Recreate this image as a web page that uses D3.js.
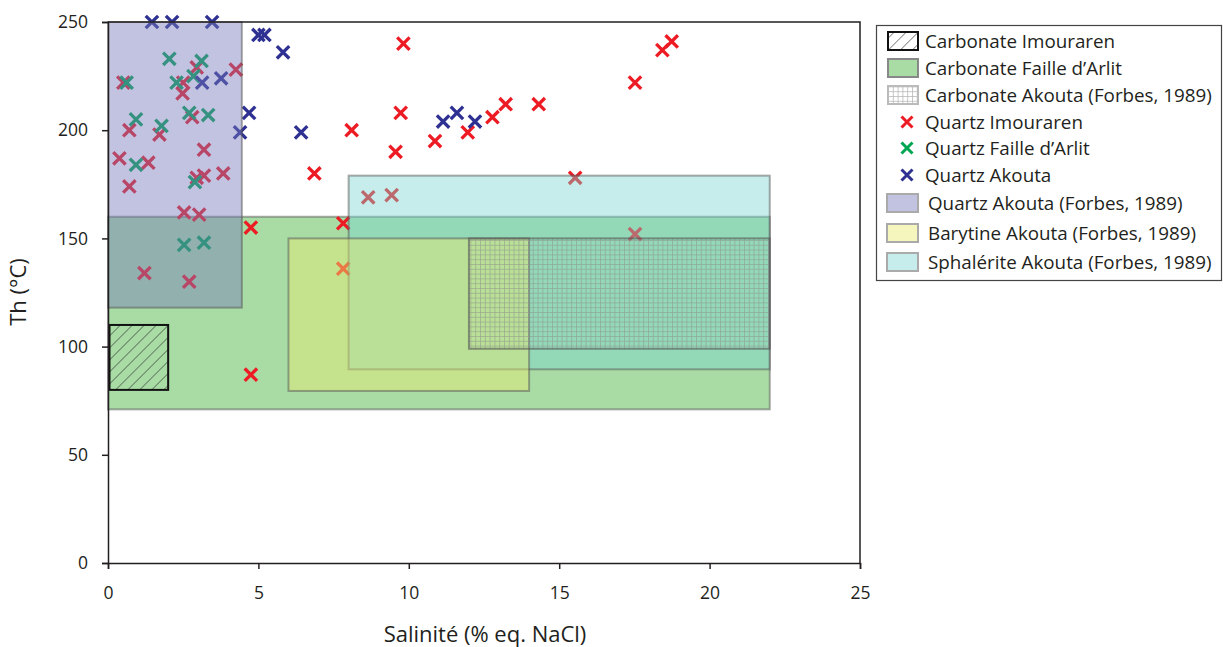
<!DOCTYPE html>
<html><head><meta charset="utf-8">
<script src="https://cdn.jsdelivr.net/npm/d3@7"></script>
<style>
body{margin:0;background:#fff;}
svg text{font-family:"Open Sans",sans-serif;fill:#231f20;}
</style></head>
<body><svg id="c" width="1223" height="647"></svg>
<script>
// ---- data ----
const xTicks = [0,5,10,15,20,25];
const yTicks = [0,50,100,150,200,250];
// boxes: [xmin, xmax, ymin, ymax]
const carbonateImouraren = [0.05, 2, 80, 110];
const carbonateFaille = [0, 22, 71, 160];
const carbonateAkouta = [12, 22, 99, 150];
const quartzAkoutaForbes = [0, 4.45, 118, 250];
const barytineAkouta = [6, 14, 79.5, 150];
const sphaleriteAkouta = [8, 22, 89.5, 179];

const quartzImouraren = [
 [0.51,222],[0.71,200],[0.38,187],[1.34,185],[0.71,174],[1.71,198],[2.50,222],[2.48,217],
 [2.95,229],[2.80,206],[3.19,191],[2.95,178],[3.19,179],[3.83,180],[4.25,228],
 [2.53,162],[3.03,161],[1.21,134],[2.70,130],[4.75,155],[4.75,87],[7.82,157],[7.82,136],
 [9.82,240],[9.73,208],[8.10,200],[9.56,190],[6.86,180],[10.87,195],[11.96,199],[12.78,206],
 [13.22,212],[14.32,212],[17.52,222],[18.43,237],[18.74,241],[8.65,169],[9.43,170],[15.53,178],[17.52,152]
];
const quartzFaille = [
 [0.62,222],[2.04,233],[2.28,222],[2.84,225],[3.11,232],[0.93,205],[1.78,202],[2.70,208],
 [3.33,207],[0.93,184],[2.89,176],[2.53,147],[3.19,148]
];
const quartzAkouta = [
 [1.46,250],[2.13,250],[3.46,250],[5.0,244],[5.2,244],[5.82,236],[3.13,222],[3.76,224],
 [4.69,208],[4.39,199],[6.42,199],[11.14,204],[11.6,208],[12.2,204]
];

const legendLabels = ["Carbonate Imouraren","Carbonate Faille d\u2019Arlit","Carbonate Akouta (Forbes, 1989)",
 "Quartz Imouraren","Quartz Faille d\u2019Arlit","Quartz Akouta",
 "Quartz Akouta (Forbes, 1989)","Barytine Akouta (Forbes, 1989)","Sphal\u00e9rite Akouta (Forbes, 1989)"];

// ---- chart ----
const svg = d3.select("#c");
const M = {l:108, t:22, r:860, b:563};
const x = d3.scaleLinear().domain([0,25]).range([M.l, M.r]);
const y = d3.scaleLinear().domain([0,250]).range([M.b, M.t]);

const defs = svg.append("defs");
const hatch = defs.append("pattern").attr("id","hatch").attr("patternUnits","userSpaceOnUse")
  .attr("width",8.5).attr("height",8.5).attr("patternTransform","rotate(45)");
hatch.append("line").attr("x1",0).attr("y1",0).attr("x2",0).attr("y2",8.5)
  .attr("stroke","#222").attr("stroke-width",1);
const grid = defs.append("pattern").attr("id","grid").attr("patternUnits","userSpaceOnUse")
  .attr("width",4.8).attr("height",4.8);
grid.append("path").attr("d","M0,0H4.8M0,0V4.8").attr("stroke","#8c8c8c").attr("stroke-opacity",0.65)
  .attr("stroke-width",1.5).attr("fill","none");

function box(b){
  return svg.append("rect").attr("x",x(b[0])).attr("y",y(b[3]))
    .attr("width",x(b[1])-x(b[0])).attr("height",y(b[2])-y(b[3]));
}
const edge = s => s.attr("stroke","#555").attr("stroke-opacity",0.5).attr("stroke-width",2);

box(carbonateFaille).attr("fill","#a8dca4").call(edge);

function cross(g, pts, color, s){
  g.selectAll(null).data(pts).enter().append("path")
   .attr("d", d=>`M${x(d[0])-s},${y(d[1])-s}L${x(d[0])+s},${y(d[1])+s}M${x(d[0])-s},${y(d[1])+s}L${x(d[0])+s},${y(d[1])-s}`)
   .attr("stroke",color).attr("stroke-width",3.3).attr("fill","none");
}
const pg = svg.append("g");
cross(pg, quartzImouraren, "#ed1c24", 6.2);
cross(pg, quartzFaille, "#00a651", 6.2);
cross(pg, quartzAkouta, "#2e3192", 6.2);

box(sphaleriteAkouta).attr("fill","#78d4d2").attr("fill-opacity",0.42).call(edge);
box(barytineAkouta).attr("fill","#e9e96f").attr("fill-opacity",0.45).call(edge);
box(quartzAkoutaForbes).attr("fill","#7779ba").attr("fill-opacity",0.45).call(edge);
box(carbonateAkouta).attr("fill","url(#grid)").call(edge).attr("stroke-opacity",0.6);
box(carbonateImouraren).attr("fill","url(#hatch)").attr("stroke","#111").attr("stroke-width",2);

// frame
svg.append("path").attr("d",`M${M.l},${M.t}H${M.r}V${M.b}`).attr("fill","none")
  .attr("stroke","#231f20").attr("stroke-width",1.5);

// axes
const ax = svg.append("g").attr("transform",`translate(0,${M.b})`)
  .call(d3.axisBottom(x).tickValues(xTicks).tickSize(6).tickPadding(18).tickFormat(d3.format("d")));
const ay = svg.append("g").attr("transform",`translate(${M.l},0)`)
  .call(d3.axisLeft(y).tickValues(yTicks).tickSize(6).tickPadding(14).tickFormat(d3.format("d")));
[ax,ay].forEach(a=>{
  a.selectAll("path,line").attr("stroke","#231f20").attr("stroke-width",1.5);
  a.selectAll("text").style("font-size","17.5px").attr("fill","#231f20").style("font-family","'Open Sans',sans-serif");
});

svg.append("text").attr("x",485).attr("y",642).attr("text-anchor","middle")
  .style("font-size","22px").text("Salinit\u00e9 (% eq. NaCl)");
svg.append("text").attr("transform","translate(26,292) rotate(-90)").attr("text-anchor","middle")
  .style("font-size","22px").text("Th (\u00b0C)");

// legend
const lg = svg.append("g");
lg.append("rect").attr("x",876.5).attr("y",25.5).attr("width",345).attr("height",255)
  .attr("fill","#fff").attr("stroke","#444").attr("stroke-width",1.2);
const rowY = [41,68,95,122,148,175,203,233,262];
const sw = [
  {f:"url(#hatch)", s:"#111", o:1},
  {f:"#a8dca4", s:"#888", o:1},
  {f:"url(#grid)", s:"#bbb", o:1},
  null,null,null,
  {f:"#7779ba", s:"#aaa", o:0.45},
  {f:"#e9e96f", s:"#aaa", o:0.45},
  {f:"#78d4d2", s:"#aaa", o:0.42}
];
const mcol = [null,null,null,"#ed1c24","#00a651","#2e3192"];
legendLabels.forEach((t,i)=>{
  const yy = rowY[i];
  if (sw[i]) {
    lg.append("rect").attr("x", i<3?888:887).attr("y",yy-9).attr("width",i<3?30:31).attr("height",18)
      .attr("fill",sw[i].f).attr("fill-opacity",sw[i].o).attr("stroke",sw[i].s).attr("stroke-width",2);
  } else {
    const s=5.5, cx=907, cy=yy;
    lg.append("path").attr("d",`M${cx-s},${cy-s}L${cx+s},${cy+s}M${cx-s},${cy+s}L${cx+s},${cy-s}`)
      .attr("stroke",mcol[i]).attr("stroke-width",3);
  }
  lg.append("text").attr("x", i<6?925:928).attr("y",yy).attr("dy","0.35em")
    .style("font-size","18.8px").text(t);
});
</script></body></html>
